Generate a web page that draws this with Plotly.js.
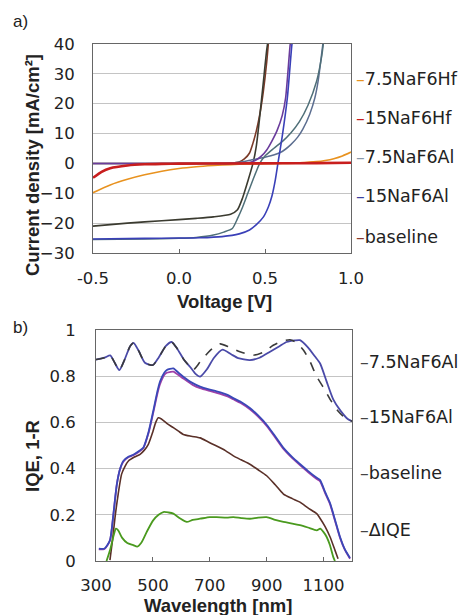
<!DOCTYPE html>
<html>
<head>
<meta charset="utf-8">
<script src="https://cdn.plot.ly/plotly-3.0.1.min.js"></script>
<style>html,body{margin:0;padding:0;background:#fff;}#chart{width:470px;height:615px;}</style>
</head>
<body>
<div id="chart"></div>
<script>
// ---------- Panel a) J-V curves ----------
const v75Hf = [-0.5,-0.4,-0.3,-0.2,-0.1,0,0.1,0.2,0.3,0.4,0.5,0.6,0.7,0.8,0.85,0.9,0.95,1.0];
const j75Hf = [-9.8,-7.2,-5.3,-3.8,-2.6,-1.7,-1.1,-0.7,-0.4,-0.2,-0.1,0,0.2,0.6,1.0,1.6,2.5,3.8];

const v15Hf = [-0.5,-0.45,-0.4,-0.3,-0.2,-0.1,0,0.3,0.6,0.8,1.0];
const j15Hf = [-4.8,-2.8,-1.6,-0.7,-0.3,-0.15,-0.05,0,0.05,0.1,0.25];

const vBaseL = [-0.5,-0.3,-0.1,0.1,0.2,0.3,0.34,0.37,0.40,0.43,0.45,0.47,0.49,0.51,0.525];
const jBaseL = [-21,-20,-19.2,-18.4,-17.9,-17.0,-15.5,-11.5,-6,0,6,16,27,38,44];
const vBaseD = [-0.5,0,0.2,0.3,0.35,0.38,0.41,0.43,0.45,0.47,0.49,0.51,0.525];
const jBaseD = [0,0,0,0.1,0.5,1.5,3.5,6.8,11,16.5,24,34,44];

const v15AlL = [-0.5,-0.2,0,0.12,0.25,0.35,0.41,0.45,0.49,0.52,0.54,0.56,0.575,0.6,0.63,0.655,0.665];
const j15AlL = [-25.3,-25.1,-25,-24.9,-24.5,-23.6,-22.3,-20.5,-18,-14.5,-11,-5.5,0,9,22,39,44];
const v15AlD = [-0.5,0,0.3,0.38,0.41,0.45,0.48,0.51,0.54,0.57,0.6,0.62,0.645,0.655];
const j15AlD = [0,0,0,0.1,0.3,1.2,2.5,4.5,7.5,11,16,22,39,44];

const v75AlL = [-0.5,-0.2,0,0.1,0.2,0.26,0.31,0.34,0.37,0.4,0.43,0.47,0.5,0.55,0.6,0.65,0.7,0.75,0.8,0.83,0.845];
const j75AlL = [-25.5,-25.3,-25.1,-24.8,-24,-23,-21.8,-18.5,-14.6,-10,-5.5,0.1,2.5,5,7.3,10.2,14,19.5,27.5,36,43];
const v75AlD = [-0.5,0,0.3,0.35,0.4,0.45,0.5,0.55,0.6,0.65,0.69,0.72,0.76,0.79,0.81,0.83,0.845];
const j75AlD = [0,0,0.1,0.4,0.9,1.5,2.1,2.8,4.0,6.3,8.8,11.5,16.5,22,28,37,44];

const jvTicks = [-0.5,0,0.5,1.0];
const jvTickText = ['-0.5','0.0','0.5','1.0'];
const jvLabels = ['7.5NaF6Hf','15NaF6Hf','7.5NaF6Al','15NaF6Al','baseline'];

// ---------- Panel b) IQE and 1-R ----------
const wlR1 = [300,330,350,365,382,400,420,432,450,472,500,520,545,566,585,610,631,642,665,700,736,770,806,853,890,923,955,982,1005,1029,1050,1076,1100,1123,1150,1175,1200];
const r75Al = [0.872,0.88,0.89,0.86,0.826,0.87,0.93,0.944,0.91,0.858,0.848,0.88,0.93,0.948,0.92,0.87,0.84,0.827,0.86,0.91,0.94,0.925,0.906,0.891,0.905,0.934,0.952,0.958,0.945,0.913,0.87,0.798,0.75,0.70,0.65,0.62,0.605];
const wlR2 = [300,330,350,365,382,400,420,432,450,472,500,520,545,566,585,610,631,650,666,690,715,745,775,800,841,875,912,945,970,1000,1017,1045,1070,1088,1110,1134,1160,1185,1200];
const r15Al = [0.872,0.88,0.89,0.86,0.826,0.87,0.93,0.944,0.91,0.858,0.848,0.88,0.93,0.948,0.92,0.87,0.84,0.81,0.798,0.83,0.88,0.915,0.895,0.878,0.87,0.88,0.906,0.93,0.948,0.955,0.956,0.925,0.885,0.855,0.78,0.70,0.65,0.615,0.605];

const wlIQE = [310,330,349,361,373,385,396,415,431,450,466,485,501,515,525,540,549,560,572,590,607,640,666,700,724,760,783,810,841,870,900,930,959,990,1017,1045,1076,1088,1105,1123,1140,1158,1175,1193];
const iqe15Al = [0.054,0.054,0.09,0.2,0.33,0.4,0.433,0.452,0.46,0.475,0.49,0.56,0.648,0.73,0.777,0.815,0.827,0.832,0.834,0.815,0.798,0.77,0.755,0.742,0.734,0.72,0.705,0.688,0.662,0.63,0.59,0.54,0.49,0.45,0.42,0.39,0.36,0.35,0.3,0.25,0.18,0.104,0.05,0.013];
const iqe75Al = [0.05,0.052,0.088,0.2,0.33,0.4,0.43,0.45,0.458,0.472,0.488,0.555,0.64,0.72,0.765,0.805,0.815,0.818,0.82,0.805,0.79,0.762,0.748,0.736,0.728,0.714,0.7,0.683,0.657,0.625,0.585,0.535,0.485,0.445,0.415,0.385,0.355,0.345,0.295,0.245,0.175,0.1,0.048,0.01];

const wlBase = [349,358,367,378,390,402,414,435,455,470,484,500,510,519,530,550,572,590,607,635,666,695,724,755,783,810,841,870,900,930,959,990,1017,1045,1076,1088,1105,1123,1140,1151];
const iqeBase = [0.004,0.09,0.19,0.29,0.376,0.41,0.433,0.45,0.462,0.48,0.505,0.56,0.6,0.62,0.615,0.595,0.577,0.562,0.548,0.54,0.533,0.515,0.498,0.478,0.455,0.438,0.419,0.395,0.369,0.33,0.29,0.27,0.255,0.23,0.205,0.184,0.15,0.104,0.047,0.01];

const wlDelta = [337,350,362,370,378,392,410,431,445,460,480,501,520,537,555,572,595,619,640,666,700,724,760,783,810,841,870,900,930,959,990,1017,1045,1076,1088,1100,1111,1122,1134,1140];
const dIQE = [0.0,0.05,0.11,0.14,0.133,0.1,0.078,0.069,0.062,0.08,0.13,0.176,0.2,0.212,0.21,0.205,0.185,0.169,0.178,0.183,0.19,0.19,0.188,0.19,0.186,0.183,0.188,0.19,0.178,0.169,0.162,0.155,0.145,0.133,0.14,0.125,0.104,0.07,0.018,0.0];

const qeTicks = [300,500,700,900,1100];
const qeYTicks = [0,0.2,0.4,0.6,0.8,1];
const qeYTickText = ['0','0.2','0.4','0.6','0.8','1'];
const qeLabels = ['7.5NaF6Al','15NaF6Al','baseline','\u0394IQE'];

// ---------- helpers ----------
const W = 470, H = 615;
const px = v => v / W;
const py = v => 1 - v / H;

function ln(x, y, color, width, xa, ya, dash) {
  return {x: x, y: y, type: 'scatter', mode: 'lines', xaxis: xa, yaxis: ya,
          line: {color: color, width: width, dash: dash || 'solid', shape: 'spline', smoothing: 0.6},
          hoverinfo: 'skip'};
}

const data = [
  ln(v75Hf, j75Hf, '#e8921f', 1.6, 'x', 'y'),
  ln(vBaseD, jBaseD, '#7a3a28', 1.6, 'x', 'y'),
  ln(vBaseL, jBaseL, '#3b3b30', 1.6, 'x', 'y'),
  ln(v75AlD, j75AlD, '#5c6e90', 1.5, 'x', 'y'),
  ln(v75AlL, j75AlL, '#4f6f78', 1.5, 'x', 'y'),
  ln(v15AlD, j15AlD, '#6a3c9c', 1.6, 'x', 'y'),
  ln(v15AlL, j15AlL, '#3a40b8', 1.6, 'x', 'y'),
  ln(v15Hf, j15Hf, '#c81e1e', 2.6, 'x', 'y'),

  ln(wlR2, r15Al, '#4a4aa8', 1.8, 'x2', 'y2'),
  ln(wlR1, r75Al, '#3a3a3a', 1.6, 'x2', 'y2', 'dash'),
  ln(wlIQE, iqe75Al, '#a040a8', 1.8, 'x2', 'y2'),
  ln(wlIQE, iqe15Al, '#3a48b8', 1.8, 'x2', 'y2'),
  ln(wlBase, iqeBase, '#5a3028', 1.6, 'x2', 'y2'),
  ln(wlDelta, dIQE, '#4a9a1e', 1.8, 'x2', 'y2')
];

const tickFont = {family: 'DejaVu Sans, Liberation Sans, Arial', size: 16.5, color: '#222'};
const titleFont = {family: 'Liberation Sans, Arial', size: 18.5, color: '#222'};
const legFont = {family: 'DejaVu Sans, Liberation Sans, Arial', size: 17.5, color: '#222'};

const jvDash = ['#e8921f', '#c81e1e', '#8a98aa', '#3a40a0', '#8a3a2e'];
const jvLabY = [79, 118, 157, 196, 237];
const qeLabY = [362, 417, 473, 530];

const annotations = [];
jvLabels.forEach((t, i) => annotations.push({
  xref: 'paper', yref: 'paper', x: px(354), y: py(jvLabY[i]), xanchor: 'left', yanchor: 'middle',
  showarrow: false, font: legFont,
  text: '<span style="color:' + jvDash[i] + '">\u2013</span>' + t
}));
qeLabels.forEach((t, i) => annotations.push({
  xref: 'paper', yref: 'paper', x: px(358), y: py(qeLabY[i]), xanchor: 'left', yanchor: 'middle',
  showarrow: false, font: legFont,
  text: '<span style="color:#444">\u2013</span>' + t
}));
annotations.push(
  {xref: 'paper', yref: 'paper', x: px(11), y: py(21), xanchor: 'left', yanchor: 'middle', showarrow: false,
   font: {family: 'Liberation Sans, Arial', size: 17, color: '#222'}, text: 'a)'},
  {xref: 'paper', yref: 'paper', x: px(11), y: py(327), xanchor: 'left', yanchor: 'middle', showarrow: false,
   font: {family: 'Liberation Sans, Arial', size: 17, color: '#222'}, text: 'b)'},
  {xref: 'paper', yref: 'paper', x: px(32), y: py(165), xanchor: 'center', yanchor: 'middle', showarrow: false,
   textangle: -90, font: titleFont, text: '<b>Current density [mA/cm\u00b2]</b>'},
  {xref: 'paper', yref: 'paper', x: px(224), y: py(302), xanchor: 'center', yanchor: 'middle', showarrow: false,
   font: titleFont, text: '<b>Voltage [V]</b>'},
  {xref: 'paper', yref: 'paper', x: px(32), y: py(456), xanchor: 'center', yanchor: 'middle', showarrow: false,
   textangle: -90, font: titleFont, text: '<b>IQE, 1-R</b>'},
  {xref: 'paper', yref: 'paper', x: px(218), y: py(605), xanchor: 'center', yanchor: 'middle', showarrow: false,
   font: titleFont, text: '<b>Wavelength [nm]</b>'}
);

const axCommon = {showline: true, linecolor: '#666', linewidth: 1, mirror: true, zeroline: false,
                  tickfont: tickFont, fixedrange: true};

const layout = {
  width: W, height: H,
  margin: {l: 0, r: 0, t: 0, b: 0},
  paper_bgcolor: '#fff', plot_bgcolor: '#fff',
  showlegend: false,
  xaxis: Object.assign({}, axCommon, {
    domain: [px(93), px(351)], range: [-0.5, 1.0], tickmode: 'array', tickvals: jvTicks, ticktext: jvTickText,
    ticks: 'inside', ticklen: 4, tickcolor: '#666', showgrid: false, ticklabelstandoff: 10, anchor: 'y'
  }),
  yaxis: Object.assign({}, axCommon, {
    domain: [py(253), py(44)], range: [-30, 40], dtick: 10, tick0: 0, ticks: '',
    showgrid: true, gridcolor: '#c4c4c4', gridwidth: 1, ticklabelstandoff: 14, anchor: 'x'
  }),
  xaxis2: Object.assign({}, axCommon, {
    domain: [px(96), px(352)], range: [300, 1200], tickmode: 'array', tickvals: qeTicks,
    ticks: 'inside', ticklen: 4, tickcolor: '#666', showgrid: false, ticklabelstandoff: 9, anchor: 'y2'
  }),
  yaxis2: Object.assign({}, axCommon, {
    domain: [py(561), py(330)], range: [0, 1], tickmode: 'array', tickvals: qeYTicks, ticktext: qeYTickText,
    ticks: '', showgrid: true, gridcolor: '#c4c4c4', gridwidth: 1, ticklabelstandoff: 16, anchor: 'x2'
  }),
  annotations: annotations
};

Plotly.newPlot('chart', data, layout, {staticPlot: true, displayModeBar: false});
</script>
</body>
</html>
